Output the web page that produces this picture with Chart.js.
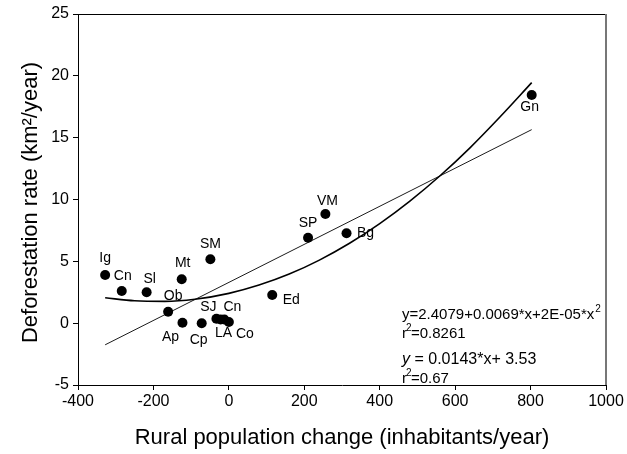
<!DOCTYPE html>
<html>
<head>
<meta charset="utf-8">
<script src="https://cdn.jsdelivr.net/npm/chart.js@4"></script>
<style>
  html, body { margin: 0; padding: 0; background: #fff; }
  #wrap { width: 627px; height: 454px; }
</style>
</head>
<body>
<div id="wrap"><canvas id="chart" width="627" height="454"></canvas></div>
<script>
// site codes and values
const siteLabels = ["Ig", "Cn", "Sl", "Mt", "SM", "Ob", "Ap", "Cp", "SJ", "LA", "Cn", "Co", "Ed", "SP", "VM", "Bg", "Gn"];
const popChange = [-328, -284, -218, -125, -49, -161, -123, -72, -33, -22, -12, 0, 115, 210, 256, 312, 803];
const deforest = [3.9, 2.6, 2.5, 3.55, 5.17, 0.93, 0.04, 0.0, 0.35, 0.3, 0.3, 0.1, 2.28, 6.9, 8.83, 7.27, 18.45];

// fitted curves, points
const quadX = [-328, -250, -170, -90, 0, 80, 160, 240, 320, 400, 480, 560, 640, 720, 803];
const quadY = [2.05, 1.81, 1.76, 1.93, 2.41, 3.08, 3.97, 5.1, 6.46, 8.05, 9.87, 11.92, 14.2, 16.71, 19.45];
const linX = [-328, 803];
const linY = [-1.75, 15.65];

const xTicks = [-400, -200, 0, 200, 400, 600, 800, 1000];
const yTicks = [-5, 0, 5, 10, 15, 20, 25];

// label offsets from each dot (px), same order as siteLabels
const labelOffsets = [[0, -17], [1, -15], [3, -13], [1, -16], [0, -15], [5, -16], [-12, 14], [-3, 17],
  [-8, -12], [3, 14], [8, -12], [16, 12], [19, 5], [0, -15], [2, -13], [19, 0], [-2, 12]];

const FONT = "Arial, 'Liberation Sans', sans-serif";

const extras = {
  id: "extras",
  afterDatasetsDraw(chart) {
    const { ctx, chartArea: a, scales } = chart;
    ctx.save();
    // frame top and right
    ctx.strokeStyle = "#000";
    ctx.lineWidth = 1;
    ctx.beginPath();
    ctx.moveTo(a.left, a.top + 0.5);
    ctx.lineTo(a.right, a.top + 0.5);
    ctx.stroke();
    ctx.strokeStyle = "#777";
    ctx.lineWidth = 2;
    ctx.beginPath();
    ctx.moveTo(a.right, a.top);
    ctx.lineTo(a.right, a.bottom);
    ctx.stroke();

    // point labels
    ctx.fillStyle = "#000";
    ctx.font = "14px " + FONT;
    ctx.textAlign = "center";
    ctx.textBaseline = "middle";
    siteLabels.forEach((s, i) => {
      const px = scales.x.getPixelForValue(popChange[i]);
      const py = scales.y.getPixelForValue(deforest[i]);
      ctx.fillText(s, px + labelOffsets[i][0], py + labelOffsets[i][1]);
    });

    // equations
    ctx.textAlign = "left";
    ctx.textBaseline = "alphabetic";
    ctx.font = "15px " + FONT;
    const ex = 402;
    let t = "y=2.4079+0.0069*x+2E-05*x";
    ctx.fillText(t, ex, 319);
    let w = ctx.measureText(t).width;
    ctx.font = "10px " + FONT;
    ctx.fillText("2", ex + w + 1, 312);
    ctx.font = "15px " + FONT;
    ctx.fillText("r", ex, 338);
    w = ctx.measureText("r").width;
    ctx.font = "10px " + FONT;
    ctx.fillText("2", ex + w - 1, 331);
    ctx.font = "15px " + FONT;
    ctx.fillText("=0.8261", ex + w + 4, 338);

    ctx.font = "italic 16px " + FONT;
    ctx.fillText("y", ex, 364);
    w = ctx.measureText("y").width;
    ctx.font = "16px " + FONT;
    ctx.fillText(" = 0.0143*x+ 3.53", ex + w, 364);
    ctx.font = "15px " + FONT;
    ctx.fillText("r", ex, 383);
    w = ctx.measureText("r").width;
    ctx.font = "10px " + FONT;
    ctx.fillText("2", ex + w - 1, 376);
    ctx.font = "15px " + FONT;
    ctx.fillText("=0.67", ex + w + 4, 383);

    // axis titles
    ctx.font = "22px " + FONT;
    ctx.textAlign = "center";
    ctx.textBaseline = "middle";
    ctx.fillText("Rural population change (inhabitants/year)", (a.left + a.right) / 2, 438);
    ctx.translate(31, (a.top + a.bottom) / 2 + 3);
    ctx.rotate(-Math.PI / 2);
    ctx.fillText("Deforestation rate (km\u00b2/year)", 0, 0);
    ctx.restore();
  }
};

new Chart(document.getElementById("chart"), {
  type: "scatter",
  data: {
    datasets: [
      {
        data: quadX.map((x, i) => ({ x: x, y: quadY[i] })),
        showLine: true,
        borderColor: "#000",
        borderWidth: 1.6,
        pointRadius: 0,
        tension: 0.4,
        cubicInterpolationMode: "monotone"
      },
      {
        data: linX.map((x, i) => ({ x: x, y: linY[i] })),
        showLine: true,
        borderColor: "#000",
        borderWidth: 0.9,
        pointRadius: 0
      },
      {
        data: popChange.map((x, i) => ({ x: x, y: deforest[i] })),
        backgroundColor: "#000",
        borderColor: "#000",
        pointRadius: 5,
        borderWidth: 0
      }
    ]
  },
  options: {
    responsive: false,
    animation: false,
    layout: { padding: { top: 14, right: 21, left: 0, bottom: 0 } },
    plugins: { legend: { display: false }, tooltip: { enabled: false } },
    scales: {
      x: {
        type: "linear",
        min: -400,
        max: 1000,
        afterBuildTicks: (s) => { s.ticks = xTicks.map(v => ({ value: v })); },
        afterFit: (s) => { s.height = 69; },
        grid: { drawOnChartArea: false, drawTicks: true, tickLength: 5, color: "#000" },
        border: { color: "#000", width: 1 },
        ticks: { color: "#000", font: { size: 16, family: FONT }, padding: 2, maxRotation: 0, callback: (v) => String(v) }
      },
      y: {
        type: "linear",
        min: -5,
        max: 25,
        afterBuildTicks: (s) => { s.ticks = yTicks.map(v => ({ value: v })); },
        afterFit: (s) => { s.width = 78; },
        grid: { drawOnChartArea: false, drawTicks: true, tickLength: 5, color: "#000" },
        border: { color: "#000", width: 1 },
        ticks: { color: "#000", font: { size: 16, family: FONT }, padding: 4, callback: (v) => String(v) }
      }
    }
  },
  plugins: [extras]
});
</script>
</body>
</html>
